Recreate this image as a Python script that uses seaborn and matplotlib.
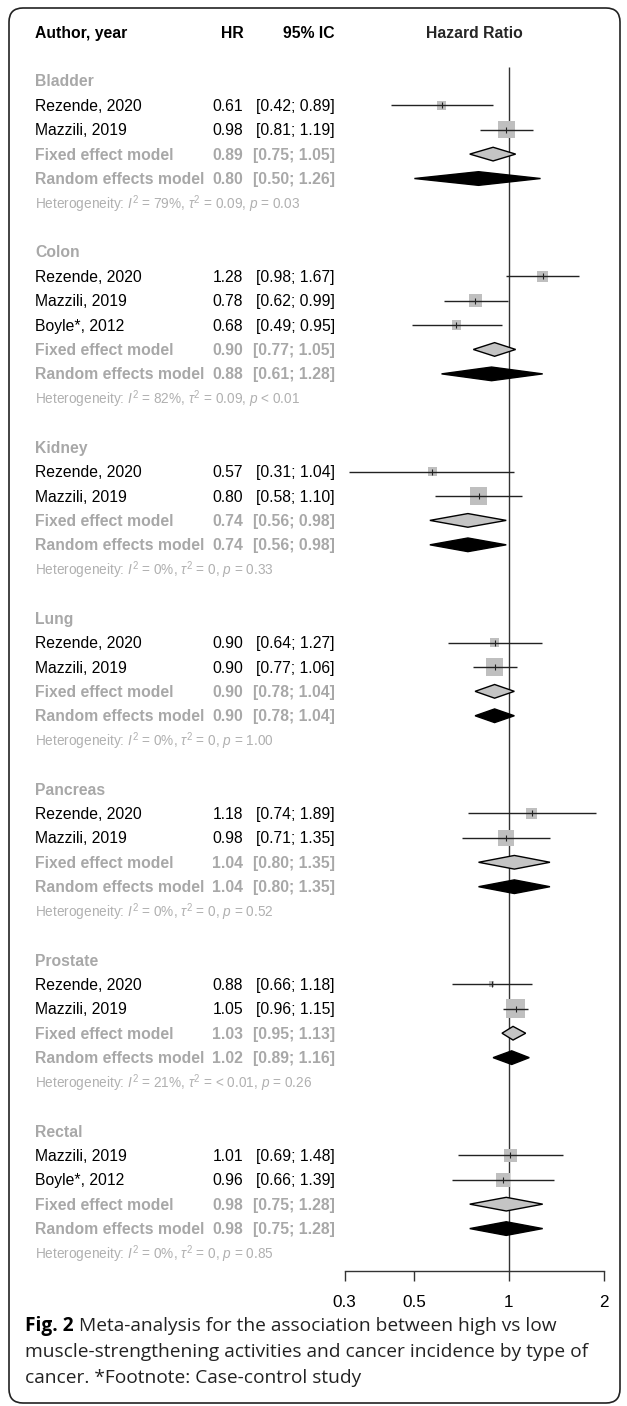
import numpy as np
import matplotlib
matplotlib.use("Agg")
import matplotlib.pyplot as plt
import seaborn as sns
from matplotlib.transforms import blended_transform_factory
from matplotlib.patches import FancyBboxPatch, Polygon
from matplotlib.ticker import NullLocator

# ---------------- data ----------------
groups = ["Bladder", "Colon", "Kidney", "Lung", "Pancreas", "Prostate", "Rectal"]

study_group = ["Bladder", "Bladder", "Colon", "Colon", "Colon", "Kidney", "Kidney",
               "Lung", "Lung", "Pancreas", "Pancreas", "Prostate", "Prostate",
               "Rectal", "Rectal"]
study_author = ["Rezende, 2020", "Mazzili, 2019", "Rezende, 2020", "Mazzili, 2019",
                "Boyle*, 2012", "Rezende, 2020", "Mazzili, 2019", "Rezende, 2020",
                "Mazzili, 2019", "Rezende, 2020", "Mazzili, 2019", "Rezende, 2020",
                "Mazzili, 2019", "Mazzili, 2019", "Boyle*, 2012"]
study_hr = [0.61, 0.98, 1.28, 0.78, 0.68, 0.57, 0.80, 0.90, 0.90, 1.18, 0.98, 0.88, 1.05, 1.01, 0.96]
study_lo = [0.42, 0.81, 0.98, 0.62, 0.49, 0.31, 0.58, 0.64, 0.77, 0.74, 0.71, 0.66, 0.96, 0.69, 0.66]
study_hi = [0.89, 1.19, 1.67, 0.99, 0.95, 1.04, 1.10, 1.27, 1.06, 1.89, 1.35, 1.18, 1.15, 1.48, 1.39]

fixed_hr = [0.89, 0.90, 0.74, 0.90, 1.04, 1.03, 0.98]
fixed_lo = [0.75, 0.77, 0.56, 0.78, 0.80, 0.95, 0.75]
fixed_hi = [1.05, 1.05, 0.98, 1.04, 1.35, 1.13, 1.28]
random_hr = [0.80, 0.88, 0.74, 0.90, 1.04, 1.02, 0.98]
random_lo = [0.50, 0.61, 0.56, 0.78, 0.80, 0.89, 0.75]
random_hi = [1.26, 1.28, 0.98, 1.04, 1.35, 1.16, 1.28]

het_i2 = ["79%", "82%", "0%", "0%", "0%", "21%", "0%"]
het_tau2 = ["= 0.09", "= 0.09", "= 0", "= 0", "= 0", "= < 0.01", "= 0"]
het_p = ["= 0.03", "< 0.01", "= 0.33", "= 1.00", "= 0.52", "= 0.26", "= 0.85"]

axis_ticks = [0.3, 0.5, 1, 2]
axis_labels = ["0.3", "0.5", "1", "2"]

header_cols = ["Author, year", "HR", "95% IC", "Hazard Ratio"]
caption_bold = "Fig. 2"
caption_lines = [" Meta-analysis for the association between high vs low",
                 "muscle-strengthening activities and cancer incidence by type of",
                 "cancer. *Footnote: Case-control study"]

# ---------------- style ----------------
sns.set_theme(style="white")
plt.rcParams["font.family"] = ["Liberation Sans", "DejaVu Sans"]
plt.rcParams["mathtext.fontset"] = "custom"
plt.rcParams["mathtext.rm"] = "Liberation Sans"
plt.rcParams["mathtext.it"] = "Liberation Sans:italic"
plt.rcParams["mathtext.bf"] = "Liberation Sans:bold"

W, H, DPI = 627, 1406, 100
ROW0, ROWPX = 32.0, 24.42
FS = 11.3
HET_FS = 9.8
GRAY = "#a8a8a8"
HGRAY = "#b0b0b0"
BASE = 0.23  # baseline offset (rows) so text is centred on the row

fig = plt.figure(figsize=(W / DPI, H / DPI), dpi=DPI)
fig.patch.set_facecolor("white")

AX_L, AX_R, AX_B = 330, 620, 1271
ax = fig.add_axes([AX_L / W, (H - AX_B) / H, (AX_R - AX_L) / W, AX_B / H])
ax.set_xscale("log")
X1, PPL = 509.0, 136.5
ax.set_xlim(np.exp((AX_L - X1) / PPL), np.exp((AX_R - X1) / PPL))
ybot = (AX_B - ROW0) / ROWPX
ax.set_ylim(ybot, (0 - ROW0) / ROWPX)
ax.patch.set_alpha(0)

trans = blended_transform_factory(fig.transFigure, ax.transData)


def txt(xpx, row, s, ha="left", bold=False, color="black", size=FS):
    ax.text(xpx / W, row + BASE, s, transform=trans, ha=ha, va="baseline",
            fontweight="bold" if bold else "normal", color=color,
            fontsize=size, clip_on=False)


# header
txt(35, 0, header_cols[0], bold=True)
txt(244, 0, header_cols[1], ha="right", bold=True)
txt(335, 0, header_cols[2], ha="right", bold=True)
ax.text(np.sqrt(axis_ticks[0] * axis_ticks[-1]), 0 + BASE, header_cols[3],
        ha="center", va="baseline", fontweight="bold", fontsize=FS, clip_on=False)

# rows
study_rows, study_size = [], []
r = 2
for gi, g in enumerate(groups):
    idx = [i for i, sg in enumerate(study_group) if sg == g]
    txt(35, r, g, bold=True, color=GRAY)
    # weights (inverse variance from CI) inside the subgroup
    se = [(np.log(study_hi[i]) - np.log(study_lo[i])) / 3.92 for i in idx]
    w = np.array([1 / s ** 2 for s in se])
    frac = w / w.sum()
    for k, i in enumerate(idx):
        rr = r + 1 + k
        study_rows.append(rr)
        side_pt = 19.5 * np.sqrt(frac[k]) * 72 / DPI
        study_size.append(side_pt ** 2)
        txt(35, rr, study_author[i])
        txt(243, rr, f"{study_hr[i]:.2f}", ha="right")
        txt(335, rr, f"[{study_lo[i]:.2f}; {study_hi[i]:.2f}]", ha="right")
    n = len(idx)
    fr, rr_ = r + n + 1, r + n + 2
    txt(35, fr, "Fixed effect model", bold=True, color=GRAY)
    txt(243, fr, f"{fixed_hr[gi]:.2f}", ha="right", bold=True, color=GRAY)
    txt(335, fr, f"[{fixed_lo[gi]:.2f}; {fixed_hi[gi]:.2f}]", ha="right", bold=True, color=GRAY)
    txt(35, rr_, "Random effects model", bold=True, color=GRAY)
    txt(243, rr_, f"{random_hr[gi]:.2f}", ha="right", bold=True, color=GRAY)
    txt(335, rr_, f"[{random_lo[gi]:.2f}; {random_hi[gi]:.2f}]", ha="right", bold=True, color=GRAY)
    het = (r"Heterogeneity: $I^2$ = " + het_i2[gi].replace("%", r"%") +
           r", $\tau^2$ " + het_tau2[gi] + r", $p$ " + het_p[gi])
    txt(35, r + n + 3, het, color=HGRAY, size=HET_FS)
    # diamonds
    hh = 0.28
    ax.add_patch(Polygon([(fixed_lo[gi], fr), (fixed_hr[gi], fr - hh),
                          (fixed_hi[gi], fr), (fixed_hr[gi], fr + hh)],
                         closed=True, facecolor="#c4c4c4", edgecolor="black",
                         lw=1.0, zorder=3))
    ax.add_patch(Polygon([(random_lo[gi], rr_), (random_hr[gi], rr_ - hh),
                          (random_hi[gi], rr_), (random_hr[gi], rr_ + hh)],
                         closed=True, facecolor="black", edgecolor="black",
                         lw=1.0, zorder=3))
    r = r + n + 5

# reference line
ax.vlines(1, 1.43, ybot, color="#333333", lw=1.0, zorder=1)

# squares, CI lines, centre ticks
sns.scatterplot(x=study_hr, y=study_rows, s=study_size, marker="s",
                color="#bfbfbf", linewidth=0, ax=ax, legend=False, zorder=2)
ax.hlines(study_rows, study_lo, study_hi, color="#222222", lw=1.0, zorder=3)
ax.scatter(study_hr, study_rows, marker="|", s=25, color="#222222",
           linewidths=0.8, zorder=4)

# axis
for side in ["top", "right", "left"]:
    ax.spines[side].set_visible(False)
ax.spines["bottom"].set_visible(True)
ax.spines["bottom"].set_color("#333333")
ax.spines["bottom"].set_linewidth(1.0)
ax.spines["bottom"].set_bounds(axis_ticks[0], axis_ticks[-1])
ax.set_xticks(axis_ticks)
ax.set_xticklabels(axis_labels)
ax.xaxis.set_minor_locator(NullLocator())
ax.set_yticks([])
ax.tick_params(axis="x", direction="out", length=7.2, width=1.0, pad=10,
               labelsize=12.3, colors="#333333", labelcolor="black", bottom=True)
ax.grid(False)

# caption
cap_fs = 13.8
cap_base = [1331, 1357, 1383]
renderer = fig.canvas.get_renderer()
t0 = fig.text(25 / W, 1 - cap_base[0] / H, caption_bold, fontfamily="Open Sans",
              fontweight="bold", fontsize=cap_fs, va="baseline", color="black")
bb = t0.get_window_extent(renderer=renderer)
fig.text(bb.x1 / W, 1 - cap_base[0] / H, caption_lines[0], fontfamily="Open Sans",
         fontsize=cap_fs, va="baseline", color="#222222")
for k, line in enumerate(caption_lines[1:]):
    fig.text(25 / W, 1 - cap_base[k + 1] / H, line, fontfamily="Open Sans",
             fontsize=cap_fs, va="baseline", color="#222222")

# rounded border
border = FancyBboxPatch((9, 3), 611, 1395, boxstyle="round,pad=0,rounding_size=14",
                        transform=None, fill=False, edgecolor="#222222", lw=1.2)
fig.add_artist(border)

fig.savefig("out.png", dpi=DPI, facecolor="white")
